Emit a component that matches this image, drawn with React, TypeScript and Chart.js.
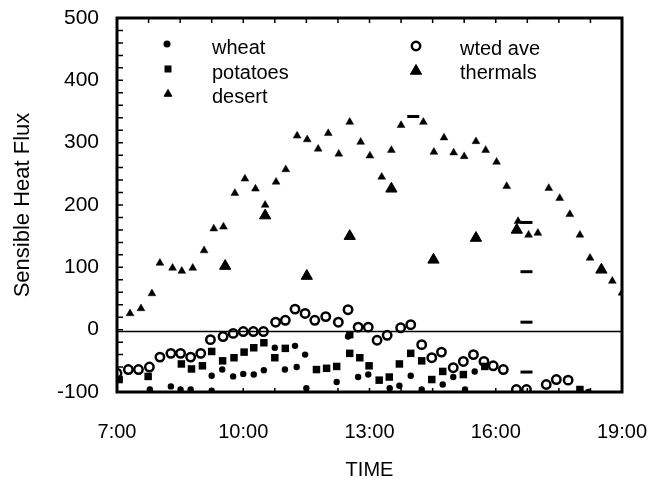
import React, { useEffect, useRef } from "react";
import { Chart, registerables } from "chart.js";

Chart.register(...registerables);

// ---- Data (time in decimal hours, sensible heat flux) ----
const X_MIN = 7;
const X_MAX = 19;
const Y_MIN = -100;
const Y_MAX = 500;
const X_LABEL_STEP = 3;
const Y_LABEL_STEP = 100;
const X_MINOR_STEP = 0.75;
const Y_MINOR_STEP = 20;

const WHEAT_T = [7.78, 8.28, 8.51, 8.75, 9.25, 9.25, 9.5, 9.76, 10.0, 10.25, 10.49, 10.75, 10.99, 11.23, 11.27, 11.47, 11.5, 12.22, 12.49, 12.73, 12.97, 13.48, 13.71, 13.98, 14.24, 14.74, 14.99, 15.27, 15.5, 18.2];
const WHEAT_V = [-96, -91, -96, -96, -74, -98, -64, -75, -71, -72, -65, -29, -64, -26, -60, -40, -94, -84, -11, -76, -72, -94, -90, -74, -96, -88, -76, -96, -67, -100];

const POTATO_T = [7.05, 7.74, 8.53, 8.77, 9.03, 9.25, 9.51, 9.78, 10.02, 10.25, 10.49, 10.75, 11.0, 11.74, 11.98, 12.22, 12.53, 12.53, 12.77, 12.99, 13.23, 13.47, 13.71, 13.98, 14.24, 14.48, 14.74, 15.23, 15.74, 18.0];
const POTATO_V = [-80, -75, -55, -63, -58, -35, -50, -45, -36, -29, -21, -45, -30, -64, -62, -59, -8, -38, -45, -58, -81, -76, -55, -38, -50, -80, -67, -72, -59, -96];

const DESERT_T = [7.31, 7.57, 7.83, 8.02, 8.32, 8.54, 8.8, 9.07, 9.3, 9.53, 9.8, 10.04, 10.29, 10.52, 10.78, 11.01, 11.28, 11.52, 11.78, 12.02, 12.27, 12.53, 12.79, 13.01, 13.29, 13.52, 13.75, 14.28, 14.53, 14.77, 15.0, 15.25, 15.53, 15.76, 16.02, 16.26, 16.53, 16.78, 17.0, 17.26, 17.52, 17.76, 18.0, 18.24, 18.77, 19.0];
const DESERT_V = [26, 34, 58, 107, 99, 94, 99, 127, 162, 165, 219, 242, 226, 200, 237, 257, 311, 305, 290, 315, 282, 333, 301, 279, 245, 288, 328, 333, 285, 308, 284, 278, 302, 288, 269, 230, 174, 152, 155, 227, 211, 185, 152, 115, 78, 59];

const WTED_T = [7.0, 7.27, 7.51, 7.77, 8.02, 8.28, 8.51, 8.75, 8.99, 9.22, 9.52, 9.76, 10.0, 10.24, 10.48, 10.77, 11.0, 11.23, 11.47, 11.7, 11.96, 12.26, 12.49, 12.73, 12.97, 13.18, 13.42, 13.74, 13.98, 14.24, 14.48, 14.71, 14.99, 15.23, 15.47, 15.72, 15.94, 16.18, 16.49, 16.73, 17.2, 17.44, 17.72];
const WTED_V = [-70, -64, -64, -60, -44, -38, -38, -44, -38, -16, -11, -6, -3, -3, -3, 12, 15, 33, 26, 15, 21, 12, 32, 4, 4, -17, -9, 3, 8, -24, -45, -36, -61, -51, -40, -51, -58, -64, -96, -96, -88, -80, -81];

const THERMAL_T = [9.57, 10.52, 11.51, 12.53, 13.52, 14.52, 15.53, 16.5, 18.51];
const THERMAL_V = [102, 183, 86, 150, 226, 112, 147, 160, 96];

const DASH_T = [14.04, 16.73, 16.73, 16.73, 16.73];
const DASH_V = [342, 172, 93, 12, -68];

const BASELINE_T = [X_MIN, X_MAX];
const BASELINE_V = [-3, -3];

const pts = (t: number[], v: number[]) => t.map((x, i) => ({ x, y: v[i] }));

const FONT = '"Liberation Sans", Arial, Helvetica, sans-serif';

type Marker = "circle" | "rect" | "triangle" | "ocircle" | "bigtriangle";

function drawMarker(ctx: CanvasRenderingContext2D, m: Marker, x: number, y: number) {
  ctx.save();
  ctx.fillStyle = "#000";
  ctx.strokeStyle = "#000";
  ctx.beginPath();
  if (m === "circle") {
    ctx.arc(x, y, 3.5, 0, Math.PI * 2);
    ctx.fill();
  } else if (m === "ocircle") {
    ctx.lineWidth = 2.5;
    ctx.arc(x, y, 4.2, 0, Math.PI * 2);
    ctx.stroke();
  } else if (m === "rect") {
    ctx.rect(x - 3.5, y - 3.5, 7, 7);
    ctx.fill();
  } else {
    const r = m === "triangle" ? 4.5 : 6.5;
    for (let k = 0; k < 3; k++) {
      const a = (k * 2 * Math.PI) / 3;
      const px = x + Math.sin(a) * r;
      const py = y - Math.cos(a) * r;
      if (k === 0) ctx.moveTo(px, py);
      else ctx.lineTo(px, py);
    }
    ctx.closePath();
    ctx.fill();
    ctx.lineWidth = 1;
    ctx.stroke();
  }
  ctx.restore();
}

const LEGEND_ITEMS: { label: string; m: Marker; mx: number; my: number; tx: number; ty: number }[] = [
  { label: "wheat", m: "circle", mx: 167, my: 44, tx: 212, ty: 48 },
  { label: "potatoes", m: "rect", mx: 168, my: 69, tx: 212, ty: 73 },
  { label: "desert", m: "triangle", mx: 168, my: 94, tx: 212, ty: 97 },
  { label: "wted ave", m: "ocircle", mx: 416, my: 46, tx: 460, ty: 49 },
  { label: "thermals", m: "bigtriangle", mx: 416, my: 71, tx: 460, ty: 73 },
];

const framePlugin = {
  id: "frameAndLegend",
  afterDraw(chart: any) {
    const { ctx, chartArea: a, scales } = chart;
    const xs = scales.x;
    const ys = scales.y;
    ctx.save();
    ctx.strokeStyle = "#000";
    // minor ticks
    ctx.lineWidth = 1.5;
    ctx.beginPath();
    for (let v = X_MIN + X_MINOR_STEP; v < X_MAX - 0.01; v += X_MINOR_STEP) {
      const px = xs.getPixelForValue(v);
      ctx.moveTo(px, a.top);
      ctx.lineTo(px, a.top + 5);
      ctx.moveTo(px, a.bottom);
      ctx.lineTo(px, a.bottom - 4);
    }
    for (let v = Y_MIN + Y_MINOR_STEP; v < Y_MAX - 0.01; v += Y_MINOR_STEP) {
      const py = ys.getPixelForValue(v);
      ctx.moveTo(a.left, py);
      ctx.lineTo(a.left + 6, py);
    }
    ctx.stroke();
    // frame
    ctx.lineWidth = 3;
    ctx.strokeRect(a.left, a.top, a.right - a.left, a.bottom - a.top);
    ctx.restore();

    // legend
    ctx.save();
    ctx.font = `20px ${FONT}`;
    ctx.fillStyle = "#000";
    ctx.textBaseline = "middle";
    ctx.textAlign = "left";
    for (const it of LEGEND_ITEMS) {
      drawMarker(ctx, it.m, it.mx, it.my);
      ctx.fillText(it.label, it.tx, it.ty);
    }
    ctx.restore();
  },
};

export default function App() {
  const ref = useRef<HTMLCanvasElement | null>(null);
  useEffect(() => {
    if (!ref.current) return;
    Chart.defaults.font.family = FONT;
    Chart.defaults.color = "#000";
    const chart = new Chart(ref.current, {
      type: "scatter",
      data: {
        datasets: [
          {
            label: "wted ave",
            data: pts(WTED_T, WTED_V),
            pointStyle: "circle",
            pointRadius: 4.2,
            borderWidth: 2.5,
            borderColor: "#000",
            backgroundColor: "rgba(255,255,255,0)",
          },
          {
            label: "wheat",
            data: pts(WHEAT_T, WHEAT_V),
            pointStyle: "circle",
            pointRadius: 3.2,
            borderWidth: 0,
            backgroundColor: "#000",
            borderColor: "#000",
          },
          {
            label: "potatoes",
            data: pts(POTATO_T, POTATO_V),
            pointStyle: "rect",
            pointRadius: 5.3,
            borderWidth: 0,
            backgroundColor: "#000",
            borderColor: "#000",
          },
          {
            label: "desert",
            data: pts(DESERT_T, DESERT_V),
            pointStyle: "triangle",
            pointRadius: 4.5,
            borderWidth: 0.5,
            backgroundColor: "#000",
            borderColor: "#000",
          },
          {
            label: "thermals",
            data: pts(THERMAL_T, THERMAL_V),
            pointStyle: "triangle",
            pointRadius: 6.5,
            borderWidth: 1,
            backgroundColor: "#000",
            borderColor: "#000",
          },
          {
            label: "unmarked",
            data: pts(DASH_T, DASH_V),
            pointStyle: "line",
            pointRadius: 6,
            borderWidth: 3,
            borderColor: "#000",
            backgroundColor: "#000",
          },
          {
            label: "baseline",
            data: pts(BASELINE_T, BASELINE_V),
            showLine: true,
            pointRadius: 0,
            borderWidth: 1.5,
            borderColor: "#000",
          },
        ],
      },
      options: {
        animation: false,
        responsive: true,
        maintainAspectRatio: false,
        layout: { padding: { top: 18, right: 39, left: 0, bottom: 0 } },
        plugins: { legend: { display: false }, tooltip: { enabled: false } },
        scales: {
          x: {
            type: "linear",
            min: X_MIN,
            max: X_MAX,
            afterFit: (s: any) => {
              s.height = 96;
              s.paddingLeft = 0;
              s.paddingRight = 0;
            },
            grid: { display: false, drawTicks: false },
            border: { display: false },
            ticks: {
              stepSize: X_LABEL_STEP,
              padding: 28,
              font: { size: 20 },
              color: "#000",
              callback: (v: any) => `${v}:00`,
            },
            title: {
              display: true,
              text: "TIME",
              font: { size: 20 },
              color: "#000",
              padding: { top: 0, bottom: 6 },
            },
          },
          y: {
            type: "linear",
            min: Y_MIN,
            max: Y_MAX,
            afterFit: (s: any) => {
              s.width = 117;
              s.paddingTop = 0;
              s.paddingBottom = 0;
            },
            grid: { display: false, drawTicks: false },
            border: { display: false },
            ticks: {
              stepSize: Y_LABEL_STEP,
              padding: 18,
              font: { size: 21 },
              color: "#000",
            },
            title: {
              display: true,
              text: "Sensible Heat Flux",
              font: { size: 22 },
              color: "#000",
              padding: { top: 10, bottom: 0 },
            },
          },
        },
      },
      plugins: [framePlugin],
    });
    return () => chart.destroy();
  }, []);

  return (
    <div style={{ position: "absolute", left: 0, top: 0, width: 661, height: 488, background: "#fff" }}>
      <canvas ref={ref} />
    </div>
  );
}
